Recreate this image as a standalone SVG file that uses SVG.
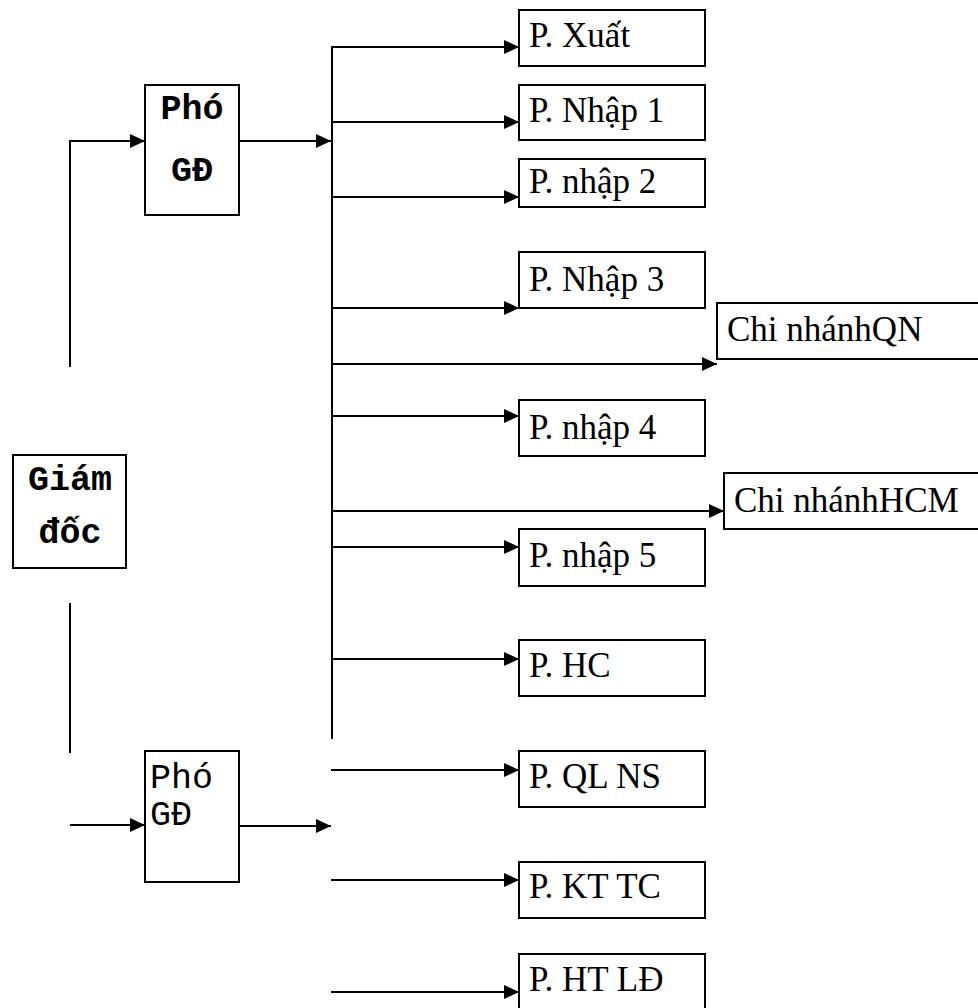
<svg xmlns="http://www.w3.org/2000/svg" width="978" height="1008" viewBox="0 0 978 1008">
<style>
.box{fill:#fff;stroke:#000;stroke-width:2}
.ln{fill:none;stroke:#000;stroke-width:2}
.t{font-family:"Liberation Serif","Times New Roman",serif;font-size:35px;fill:#000}
.m{font-family:"Liberation Mono","Courier New",monospace;font-size:35px;fill:#000}
.mb{font-weight:bold;text-anchor:middle}
</style>
<defs>
<marker id="ar" markerWidth="15" markerHeight="14" refX="15" refY="7" orient="auto" markerUnits="userSpaceOnUse">
<path d="M0,0 L15,7 L0,14 Z" fill="#000"/>
</marker>
</defs>
<g id="connectors">
<path class="ln" d="M70,367 V141 H145" marker-end="url(#ar)"/>
<line class="ln" x1="70" y1="603" x2="70" y2="753"/>
<line class="ln" x1="70" y1="825" x2="145" y2="825" marker-end="url(#ar)"/>
<line class="ln" x1="239" y1="141" x2="331" y2="141" marker-end="url(#ar)"/>
<line class="ln" x1="239" y1="826" x2="331" y2="826" marker-end="url(#ar)"/>
<line class="ln" x1="332" y1="46" x2="332" y2="739"/>
<line class="ln" x1="332" y1="47" x2="519" y2="47" marker-end="url(#ar)"/>
<line class="ln" x1="332" y1="122" x2="519" y2="122" marker-end="url(#ar)"/>
<line class="ln" x1="332" y1="197" x2="519" y2="197" marker-end="url(#ar)"/>
<line class="ln" x1="332" y1="308" x2="519" y2="308" marker-end="url(#ar)"/>
<line class="ln" x1="332" y1="364" x2="717" y2="364" marker-end="url(#ar)"/>
<line class="ln" x1="332" y1="416" x2="519" y2="416" marker-end="url(#ar)"/>
<line class="ln" x1="332" y1="511" x2="724" y2="511" marker-end="url(#ar)"/>
<line class="ln" x1="332" y1="547" x2="519" y2="547" marker-end="url(#ar)"/>
<line class="ln" x1="332" y1="659" x2="519" y2="659" marker-end="url(#ar)"/>
<line class="ln" x1="331" y1="770" x2="519" y2="770" marker-end="url(#ar)"/>
<line class="ln" x1="331" y1="880" x2="519" y2="880" marker-end="url(#ar)"/>
<line class="ln" x1="331" y1="992" x2="519" y2="992" marker-end="url(#ar)"/>
</g>
<g id="giam-doc"><rect class="box" x="13" y="455" width="113" height="113"/>
<text class="m mb" x="70" y="490">Giám</text><text class="m mb" x="70" y="543">đốc</text></g>
<g id="pho-gd-1"><rect class="box" x="145" y="85" width="94" height="130"/>
<text class="m mb" x="192" y="119">Phó</text><text class="m mb" x="192" y="181">GĐ</text></g>
<g id="pho-gd-2"><rect class="box" x="145" y="751" width="94" height="131"/>
<text class="m" x="150" y="788">Phó</text><text class="m" x="150" y="825">GĐ</text></g>
<g id="p-xuat"><rect class="box" x="519" y="10" width="186" height="56"/><text class="t" x="529" y="47">P. Xuất</text></g>
<g id="p-nhap1"><rect class="box" x="519" y="85" width="186" height="55"/><text class="t" x="529" y="122">P. Nhập 1</text></g>
<g id="p-nhap2"><rect class="box" x="519" y="159" width="186" height="48"/><text class="t" x="529" y="193">P. nhập 2</text></g>
<g id="p-nhap3"><rect class="box" x="519" y="252" width="186" height="56"/><text class="t" x="529" y="291">P. Nhập 3</text></g>
<g id="cn-qn"><rect class="box" x="717" y="303" width="270" height="56"/><text class="t" x="727" y="341">Chi nhánhQN</text></g>
<g id="p-nhap4"><rect class="box" x="519" y="400" width="186" height="56"/><text class="t" x="529" y="439">P. nhập 4</text></g>
<g id="cn-hcm"><rect class="box" x="724" y="473" width="270" height="56"/><text class="t" x="734" y="512">Chi nhánhHCM</text></g>
<g id="p-nhap5"><rect class="box" x="519" y="529" width="186" height="57"/><text class="t" x="529" y="567">P. nhập 5</text></g>
<g id="p-hc"><rect class="box" x="519" y="640" width="186" height="56"/><text class="t" x="529" y="677">P. HC</text></g>
<g id="p-qlns"><rect class="box" x="519" y="751" width="186" height="56"/><text class="t" x="529" y="788">P. QL NS</text></g>
<g id="p-kttc"><rect class="box" x="519" y="862" width="186" height="56"/><text class="t" x="529" y="898">P. KT TC</text></g>
<g id="p-htld"><rect class="box" x="519" y="954" width="186" height="60"/><text class="t" x="529" y="991">P. HT LĐ</text></g>
</svg>
